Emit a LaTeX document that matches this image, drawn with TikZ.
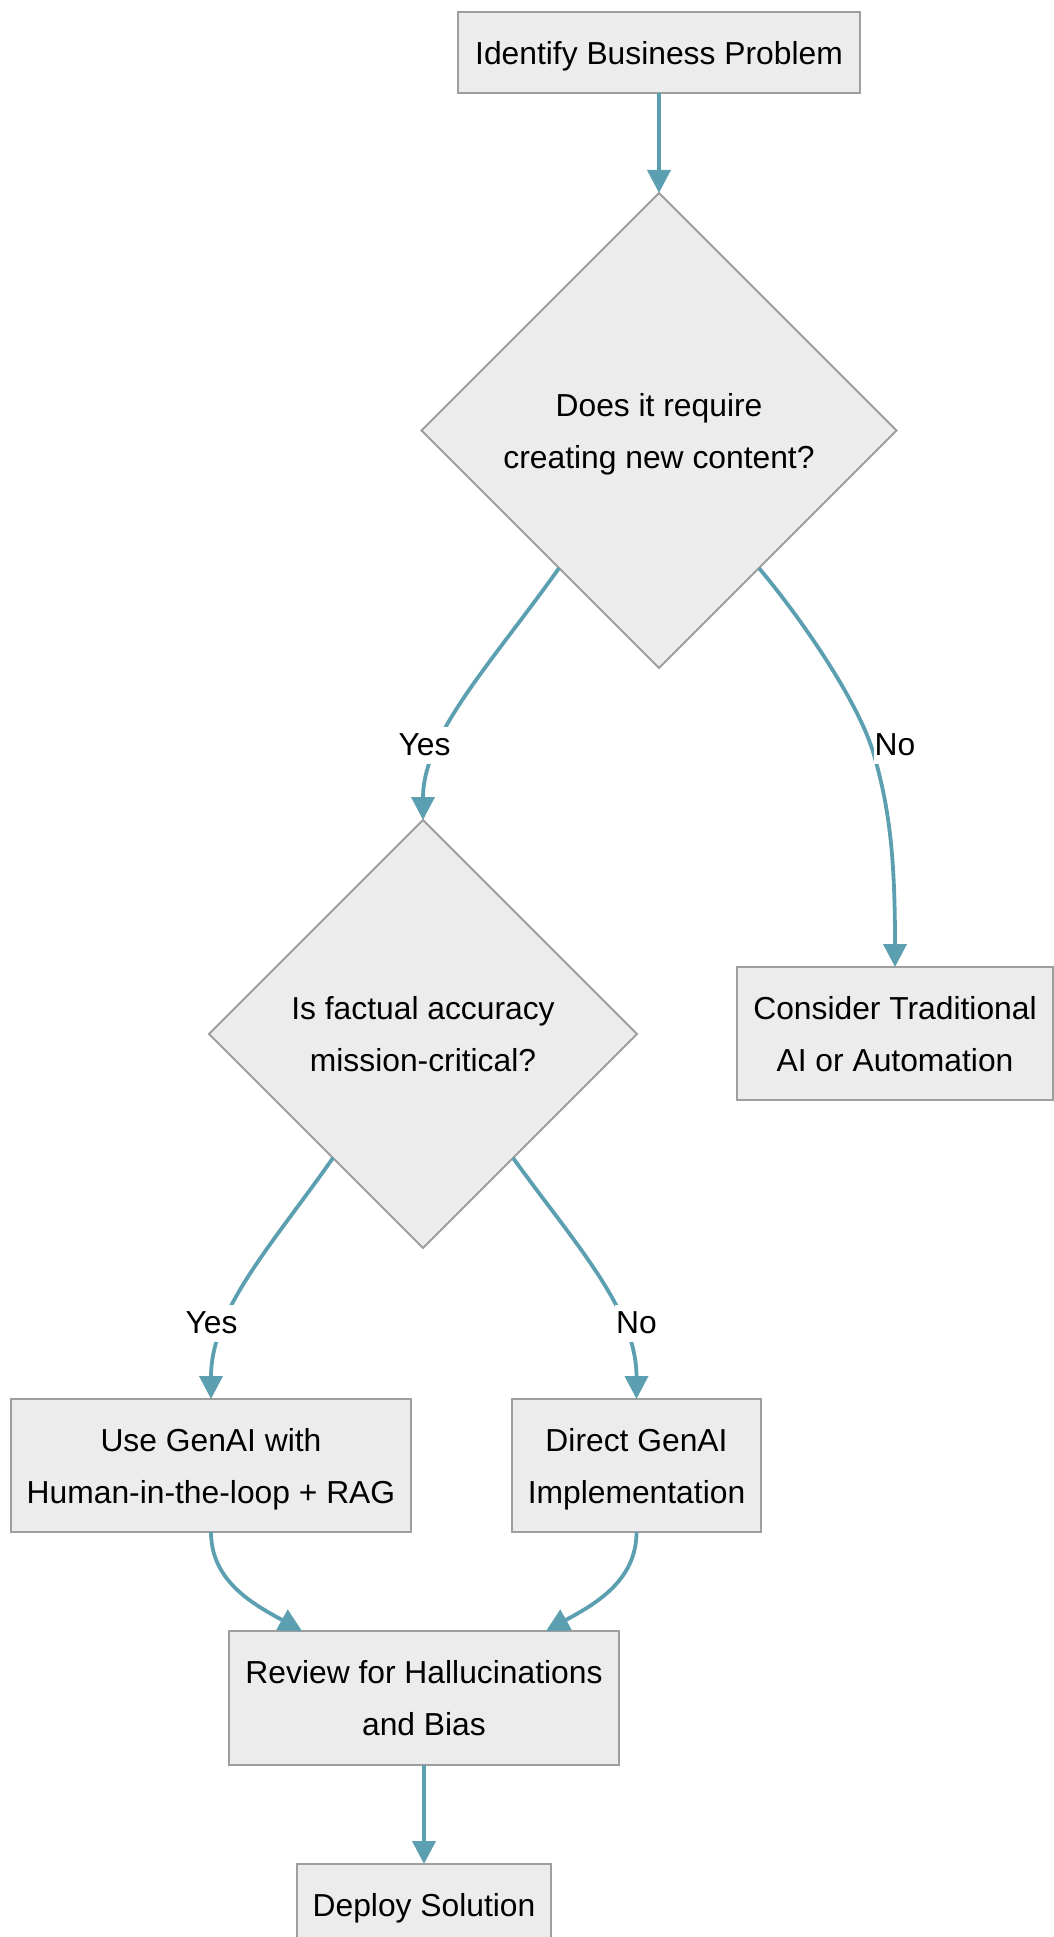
\documentclass[tikz,border=0pt]{standalone}
\usepackage{fontspec}
\setmainfont{Liberation Sans}
\usetikzlibrary{shapes.geometric,arrows.meta,calc}
\definecolor{boxfill}{HTML}{ECECEC}
\definecolor{boxline}{HTML}{9E9E9E}
\definecolor{flow}{HTML}{5B9FB0}
\begin{document}
\begin{tikzpicture}[x=0.5pt,y=-0.5pt,
  every node/.style={font=\fontsize{15.9}{26}\selectfont},
  % fixed line boxes so every text sits at the same height in its shape
  oneline/.style={text height=14.6pt, text depth=3pt},
  twoline/.style={text height=40.6pt, text depth=3pt},
  procbox/.style={draw=boxline, fill=boxfill, line width=1pt, rectangle,
    inner sep=0pt, outer sep=0pt, align=center},
  decision/.style={draw=boxline, fill=boxfill, line width=1pt, diamond, aspect=1,
    inner sep=0pt, outer sep=0pt, align=center, twoline},
  flowline/.style={draw=flow, line width=1.9pt,
    -{Triangle[length=11.5pt,width=11.5pt]}},
  tag/.style={fill=white, inner xsep=0.5pt, inner ysep=0pt, minimum height=18.5pt}
]
\clip (0,0) rectangle (1054,1937);

% process steps and decisions
\node[procbox, oneline, minimum width=201pt, minimum height=40.5pt] (start) at (659,52.5) {Identify Business Problem};
\node[decision, minimum width=237.5pt, minimum height=237.5pt] (d1) at (659,430.5) {Does it require\\creating new content?};
\node[decision, minimum width=214pt, minimum height=214pt] (d2) at (423,1034) {Is factual accuracy\\mission-critical?};
\node[procbox, twoline, minimum width=158pt, minimum height=66.5pt] (trad) at (895,1033.5) {Consider Traditional\\AI or Automation};
\node[procbox, twoline, minimum width=200pt, minimum height=66.5pt] (hitl) at (211,1465.5) {Use GenAI with\\Human-in-the-loop + RAG};
\node[procbox, twoline, minimum width=124.5pt, minimum height=66.5pt] (direct) at (636.5,1465.5) {Direct GenAI\\Implementation};
\node[procbox, twoline, minimum width=195pt, minimum height=67pt] (review) at (424,1698) {Review for Hallucinations\\and Bias};
\node[procbox, oneline, minimum width=127pt, minimum height=40.5pt] (deploy) at (424,1904.5) {Deploy Solution};

% connectors
\draw[flowline] (start.south) -- (d1.north);
\draw[flowline] (d1.234) .. controls (490,665) and (423,735) .. (d2.north);
\draw[flowline] (d1.306) .. controls (805,623) and (860,705) .. (874,755)
  .. controls (890,810) and (895,860) .. (trad.north);
\draw[flowline] (d2.234) .. controls (272,1245) and (211,1310) .. (hitl.north);
\draw[flowline] (d2.306) .. controls (576,1245) and (636.5,1310) .. (direct.north);
\draw[flowline] (hitl.south) .. controls (211,1582) and (255,1605) .. ($(review.north)+(-122,0)$);
\draw[flowline] (direct.south) .. controls (636.5,1582) and (593,1605) .. ($(review.north)+(122,0)$);
\draw[flowline] (review.south) -- (deploy.north);

% branch labels
\node[tag] (yes1) at (424.5,745) {Yes};
\node[tag] (no1) at (895,745) {No};
\node[tag] (yes2) at (211.5,1323) {Yes};
\node[tag] (no2) at (636.5,1323) {No};
\end{tikzpicture}
\end{document}
